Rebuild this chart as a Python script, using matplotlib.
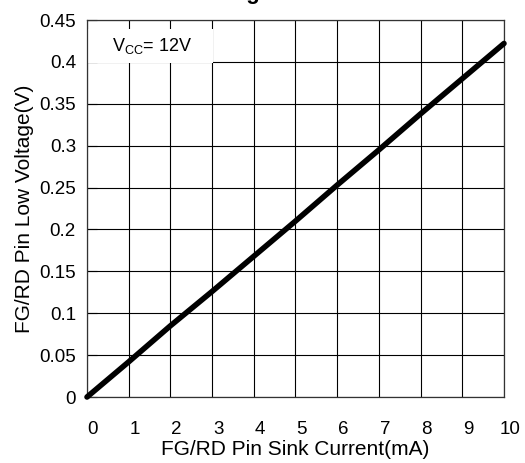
import numpy as np
import matplotlib
matplotlib.use('Agg')
import matplotlib.pyplot as plt
import matplotlib.transforms as mtransforms
from matplotlib.patches import Rectangle

plt.rcParams['font.family'] = ['Liberation Sans', 'DejaVu Sans']

# Sink current (mA) vs FG/RD pin low voltage (V)
current = [0, 1, 2, 3, 4, 5, 6, 7, 8, 9, 10]
voltage = [0, 0.042, 0.085, 0.126, 0.168, 0.21, 0.253, 0.295, 0.338, 0.38, 0.422]
x_ticks = list(range(0, 11))
y_ticks = [0, 0.05, 0.1, 0.15, 0.2, 0.25, 0.3, 0.35, 0.4, 0.45]
y_tick_labels = ['0', '0.05', '0.1', '0.15', '0.2', '0.25', '0.3', '0.35', '0.4', '0.45']

fig = plt.figure(figsize=(5.25, 4.63), dpi=100)
ax = fig.add_axes([0.1657, 0.1425, 0.7943, 0.8143])

ax.set_xlim(0, 10)
ax.set_ylim(0, 0.45)
ax.set_xticks(x_ticks)
ax.set_yticks(y_ticks)
ax.set_yticklabels(y_tick_labels)
ax.grid(True, color='black', linewidth=0.8)
ax.set_axisbelow(True)
ax.tick_params(axis='x', length=0, pad=17, labelsize=13.5)
ax.tick_params(axis='y', length=7, width=0.8, pad=8, labelsize=13.5, direction='in')
# x tick labels sit a little right of their grid lines
shift = mtransforms.ScaledTranslation(6 / 100, 0, fig.dpi_scale_trans)
for lab in ax.get_xticklabels():
    lab.set_transform(lab.get_transform() + shift)
for s in ax.spines.values():
    s.set_color('#333333')
    s.set_linewidth(0.9)

# white label box hiding the grid
ax.add_patch(Rectangle((0.02, 0.3985), 3.01, 0.041, facecolor='white',
                       edgecolor='none', zorder=2.5))
ax.text(0.6, 0.4185, '$\\mathregular{V_{CC}}$= 12V', fontsize=13, va='center',
        zorder=3)

ax.plot(current, voltage, color='black', linewidth=4, solid_capstyle='round',
        zorder=4, clip_on=False)

ax.set_xlabel('FG/RD Pin Sink Current(mA)', fontsize=15, labelpad=2)
ax.set_ylabel('FG/RD Pin Low Voltage(V)', fontsize=15, labelpad=4)

# title is cropped at the top of the image; only its bottom is visible
fig.text(272 / 525, 1.0 + 1.0 / 463, 'FG/RD Pin Low Voltage', fontsize=16,
         fontweight='bold', ha='right', va='baseline')

fig.savefig('out.png', dpi=100)
